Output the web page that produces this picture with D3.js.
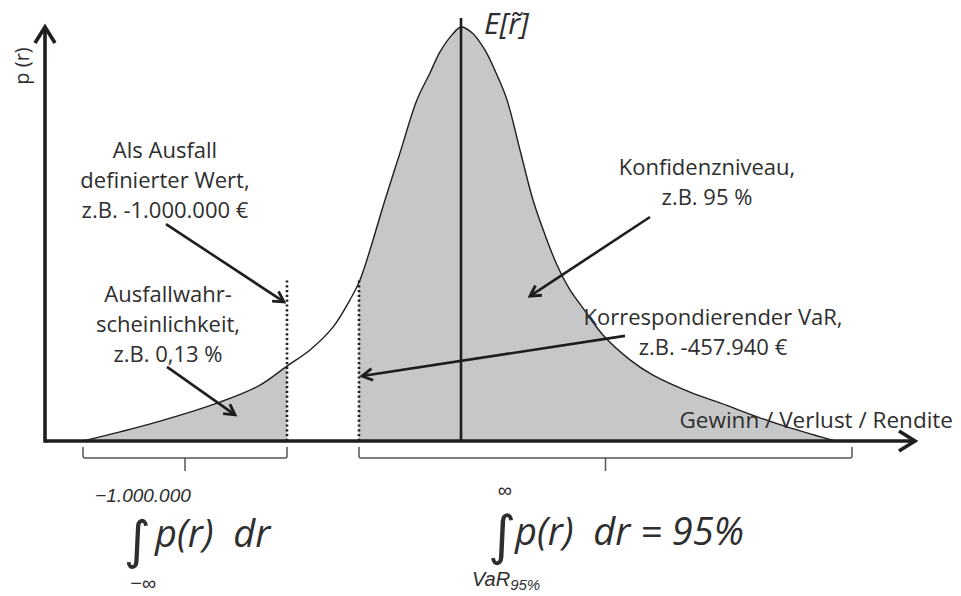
<!DOCTYPE html>
<html><head><meta charset="utf-8">
<script src="https://cdn.jsdelivr.net/npm/d3@7"></script>
<style>
body{margin:0;background:#fff;}
svg text{font-family:"Open Sans","Noto Sans",sans-serif;fill:#2e2e2e;}
svg text.small{font-family:"Liberation Sans",sans-serif;}
</style></head>
<body><svg id="chart" width="961" height="596"></svg>
<script>
// ---- data (abstract return units r, density p normalised to peak = 1) ----
const curveR = [-7.56,-6.82,-6.02,-4.82,-4.02,-3.48,-3.02,-2.56,-2.22,-2.02,-1.52,-1.22,-0.88,-0.62,-0.42,-0.18,0,
                 0.22,0.48,0.72,0.92,1.18,1.44,1.68,1.92,2.18,2.44,2.84,3.38,3.84,4.58,5.18,5.98,6.52,7.08,7.48];
const curveP = [0,0.022,0.048,0.094,0.135,0.181,0.220,0.275,0.341,0.389,0.582,0.696,0.824,0.889,0.940,0.981,1.0,
                 0.986,0.944,0.884,0.824,0.703,0.582,0.498,0.425,0.365,0.321,0.256,0.196,0.159,0.118,0.092,0.056,0.034,0.014,0];
const defaultR = -3.48;     // "Als Ausfall definierter Wert"
const varR = -2.04;         // VaR 95%
const meanR = 0;            // E[r~]
const dottedTop = 0.39;
const meanTop = 1.022;
const bracketLeft = [-7.56, defaultR];
const bracketRight = [varR, 7.82];
const axisR = [-8.32, 9.08];
const axisP = [0, 1.0];
// annotation arrows: [fromR, fromP, toR, toP]
const arrows = [
  [-5.90, 0.524, -3.54, 0.336],
  [-5.88, 0.179, -4.52, 0.063],
  [ 3.78, 0.541,  1.38, 0.350],
  [ 3.28, 0.254, -1.98, 0.157]
];
const labelAusfall = ["Als Ausfall","definierter Wert,","z.B. -1.000.000 €"];
const labelWahr = ["Ausfallwahr-","scheinlichkeit,","z.B. 0,13 %"];
const labelKonf = ["Konfidenzniveau,","z.B. 95 %"];
const labelVaR = ["Korrespondierender VaR,","z.B. -457.940 €"];

// ---- drawing ----
const svg = d3.select("#chart");
const x = d3.scaleLinear().domain(axisR).range([45, 915]);
const y = d3.scaleLinear().domain(axisP).range([441, 27]);
const pts = curveR.map((r,i)=>({r, p:curveP[i]}));
const ink = "#1e1e1e";

const defs = svg.append("defs");
defs.append("clipPath").attr("id","clipL").append("rect")
  .attr("x",0).attr("y",0).attr("width",x(defaultR)).attr("height",596);
defs.append("clipPath").attr("id","clipR").append("rect")
  .attr("x",x(varR)).attr("y",0).attr("width",961-x(varR)).attr("height",596);
defs.append("marker").attr("id","ah").attr("viewBox","0 0 12 12").attr("refX",10).attr("refY",6)
  .attr("markerWidth",6).attr("markerHeight",6).attr("orient","auto").attr("markerUnits","strokeWidth")
  .append("path").attr("d","M2,1.5 L10,6 L2,10.5").attr("fill","none").attr("stroke",ink)
  .attr("stroke-width",2.2).attr("stroke-linejoin","miter");

const cv = d3.curveCatmullRom.alpha(0.5);
const area = d3.area().x(d=>x(d.r)).y0(y(0)).y1(d=>y(d.p)).curve(cv);
const line = d3.line().x(d=>x(d.r)).y(d=>y(d.p)).curve(cv);

svg.append("path").datum(pts).attr("d",area).attr("fill","#c6c7c9").attr("clip-path","url(#clipL)");
svg.append("path").datum(pts).attr("d",area).attr("fill","#c6c7c9").attr("clip-path","url(#clipR)");
svg.append("path").datum(pts).attr("d",line).attr("fill","none").attr("stroke",ink).attr("stroke-width",1.4);

// dotted boundaries
[defaultR, varR].forEach(r=>{
  svg.append("line").attr("x1",x(r)).attr("x2",x(r)).attr("y1",y(0)).attr("y2",y(dottedTop))
    .attr("stroke",ink).attr("stroke-width",2.6).attr("stroke-dasharray","2.2,2.6");
});
// mean line
svg.append("line").attr("x1",x(meanR)).attr("x2",x(meanR)).attr("y1",y(0)).attr("y2",y(meanTop))
  .attr("stroke",ink).attr("stroke-width",2.6);

// axes
svg.append("line").attr("x1",x(axisR[0])).attr("x2",x(axisR[1])-2).attr("y1",y(0)).attr("y2",y(0))
  .attr("stroke",ink).attr("stroke-width",3.6);
svg.append("line").attr("x1",x(axisR[0])).attr("x2",x(axisR[0])).attr("y1",y(0)+1.8).attr("y2",y(axisP[1])+2)
  .attr("stroke",ink).attr("stroke-width",3.6);
const xe = x(axisR[1]), ye = y(axisP[1]);
svg.append("path").attr("d",`M${xe-16},${y(0)-10} L${xe},${y(0)} L${xe-16},${y(0)+10}`)
  .attr("fill","none").attr("stroke",ink).attr("stroke-width",3.6);
svg.append("path").attr("d",`M${x(axisR[0])-10},${ye+16} L${x(axisR[0])},${ye} L${x(axisR[0])+10},${ye+16}`)
  .attr("fill","none").attr("stroke",ink).attr("stroke-width",3.6);

// brackets
[bracketLeft, bracketRight].forEach(b=>{
  const x1=x(b[0]), x2=x(b[1]), m=(x1+x2)/2;
  svg.append("path").attr("d",`M${x1},447 V456 Q${x1},458 ${x1+2},458 H${x2-2} Q${x2},458 ${x2},456 V447`)
    .attr("fill","none").attr("stroke","#555").attr("stroke-width",1.5);
  svg.append("line").attr("x1",m).attr("x2",m).attr("y1",458).attr("y2",471)
    .attr("stroke","#555").attr("stroke-width",1.5);
});

// annotation arrows
arrows.forEach(a=>{
  svg.append("line").attr("x1",x(a[0])).attr("y1",y(a[1])).attr("x2",x(a[2])).attr("y2",y(a[3]))
    .attr("stroke",ink).attr("stroke-width",2.6).attr("marker-end","url(#ah)");
});

// text labels
function block(lines, cx, by, lh, fs){
  const t = svg.append("text").attr("text-anchor","middle").attr("font-size",fs);
  lines.forEach((s,i)=>t.append("tspan").attr("x",cx).attr("y",by+i*lh).text(s));
}
block(labelAusfall, 165, 158, 30, 22);
block(labelWahr, 168, 302, 30, 22);
block(labelKonf, 707, 175, 30, 22);
block(labelVaR, 713, 325, 30, 22);
svg.append("text").attr("x",953).attr("y",428).attr("text-anchor","end").attr("font-size",22.5)
  .text("Gewinn / Verlust / Rendite");
svg.append("text").attr("transform","translate(29,66) rotate(-90)").attr("text-anchor","middle")
  .attr("font-size",20).text("p (r)");
svg.append("text").attr("x",484).attr("y",34).attr("font-size",30).attr("font-style","italic")
  .text("E[r\u0303]");

// integrals
svg.append("text").attr("class","small").attr("x",143).attr("y",502).attr("text-anchor","middle").attr("font-size",19)
  .attr("font-style","italic").text("\u22121.000.000");
svg.append("text").attr("class","small").attr("x",143).attr("y",590).attr("text-anchor","middle").attr("font-size",20)
  .attr("font-style","italic").text("\u2212\u221e");
svg.append("text").attr("x",137).attr("y",558).attr("text-anchor","middle").attr("font-size",52)
  .style("font-family","DejaVu Sans").text("\u222b");
svg.append("text").attr("x",155).attr("y",547).attr("font-size",38).attr("font-style","italic")
  .style("white-space","pre").text("p(r)  dr");

svg.append("text").attr("class","small").attr("x",505).attr("y",497).attr("text-anchor","middle").attr("font-size",20)
  .text("\u221e");
svg.append("text").attr("x",502).attr("y",554).attr("text-anchor","middle").attr("font-size",54)
  .style("font-family","DejaVu Sans").text("\u222b");
svg.append("text").attr("x",515).attr("y",545).attr("font-size",38).attr("font-style","italic")
  .style("white-space","pre").text("p(r)  dr = 95%");
const v = svg.append("text").attr("class","small").attr("x",472).attr("y",586).attr("font-size",20).attr("font-style","italic");
v.append("tspan").text("VaR");
v.append("tspan").attr("font-size",15).attr("dy",4).text("95%");
</script></body></html>
